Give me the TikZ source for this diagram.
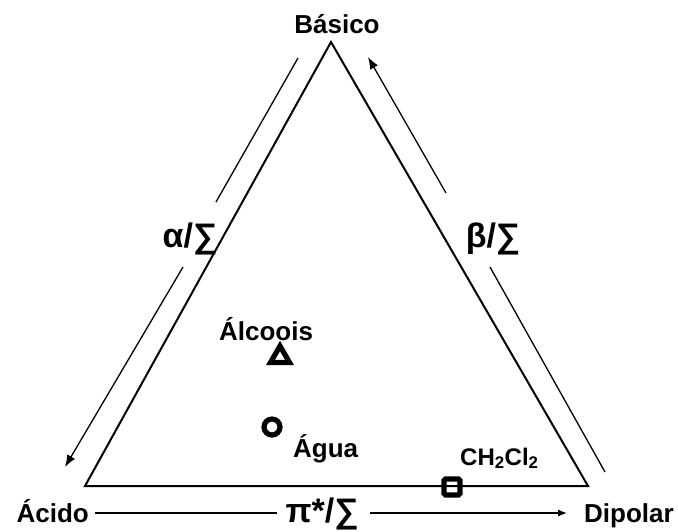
\documentclass[tikz,border=0pt]{standalone}
\usepackage{fontspec}
\setmainfont{Liberation Sans}
\usetikzlibrary{arrows.meta,shapes.geometric}

\begin{document}
\begin{tikzpicture}[x=1pt,y=-1pt,
  lbl/.style={font=\fontsize{26}{30}\selectfont\bfseries,inner sep=0pt},
  big/.style={font=\fontsize{34}{38}\selectfont\bfseries,inner sep=0pt},
  arr/.style={line width=1.3pt,-{Latex[length=12pt,width=9pt]}},
  mk/.style={draw,line width=5.2pt,inner sep=0pt}]
  \useasboundingbox (0,0) rectangle (678,531);
  % triangle
  \coordinate (top) at (331,42);
  \coordinate (lft) at (85,486);
  \coordinate (rgt) at (588,486);
  \draw[line width=2pt] (top)--(lft)--(rgt)--cycle;
  % corner labels
  \node[lbl,anchor=base] (basico) at (337,33) {Básico};
  \node[lbl,anchor=base east] (acido) at (89,522) {Ácido};
  \node[lbl,anchor=base west] (dipolar) at (584,522) {Dipolar};
  % axis labels
  \node[big,anchor=base] (alfa) at (190,247) {α/∑};
  \node[big,anchor=base] (beta) at (493,247) {β/∑};
  \node[big,anchor=base] (pi) at (322,522) {π*/∑};
  % arrows
  \coordinate (a1) at (298,58);
  \coordinate (a2) at (216,202);
  \coordinate (a3) at (183,267);
  \coordinate (a4) at (65,467);
  \draw[line width=1.3pt] (a1)--(a2);
  \draw[arr] (a3)--(a4);
  \coordinate (b1) at (368,57);
  \coordinate (b2) at (446,193);
  \coordinate (b3) at (490,267);
  \coordinate (b4) at (605,472);
  \draw[arr] (b2)--(b1);
  \draw[line width=1.3pt] (b3)--(b4);
  \coordinate (c1) at (95,513);
  \coordinate (c2) at (277,513);
  \coordinate (c3) at (370,513);
  \coordinate (c4) at (567,513);
  \draw[line width=1.3pt] (c1)--(c2);
  \draw[line width=1.3pt,-{Latex[length=9pt,width=7pt]}] (c3)--(c4);
  % solvents
  \node[mk,regular polygon,regular polygon sides=3,minimum size=22pt] (alc) at (280,357) {};
  \node[lbl,anchor=base] (alcl) at (266,340) {Álcoois};
  \node[mk,circle,minimum size=16pt] (agua) at (272,427) {};
  \node[lbl,anchor=base west] (agual) at (293,457) {Água};
  \node[mk,rectangle,rounded corners=1.5pt,minimum size=16pt] (dcm) at (452,487) {};
  \node[lbl,anchor=base west,font=\fontsize{24}{28}\selectfont\bfseries] (dcml) at (460,465) {CH\textsubscript{2}Cl\textsubscript{2}};
\end{tikzpicture}
\end{document}
